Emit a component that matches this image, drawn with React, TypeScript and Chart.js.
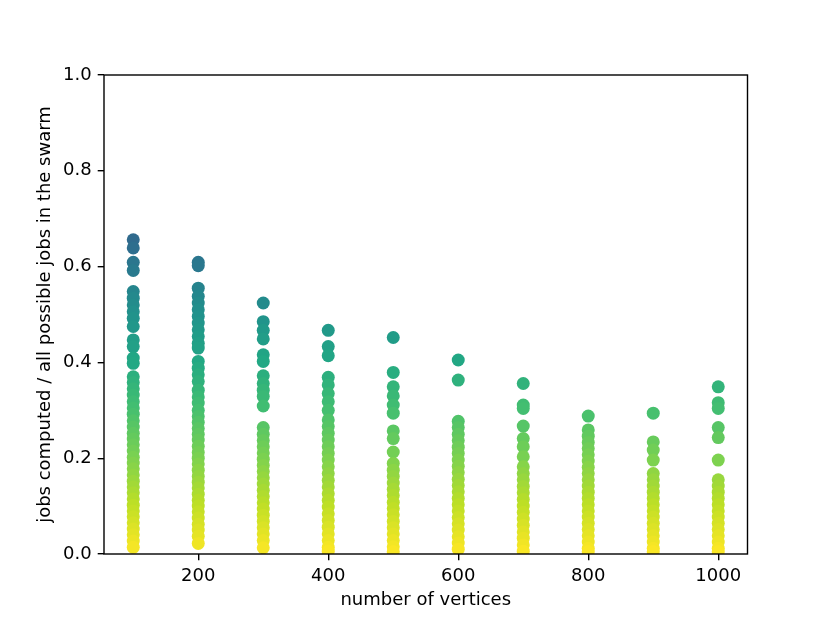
import { useEffect, useRef } from "react";
import { Chart, Plugin, registerables } from "chart.js";

Chart.register(...registerables);

// x positions of the columns
const vertexCounts = [100, 200, 300, 400, 500, 600, 700, 800, 900, 1000];

// fraction of jobs computed, one list per column
const ratios100 = [0.656, 0.639, 0.609, 0.592, 0.548, 0.534, 0.520, 0.506, 0.492, 0.475, 0.447, 0.433, 0.409, 0.398, 0.370, 0.358, 0.345, 0.332, 0.318, 0.305, 0.292, 0.278, 0.265, 0.252, 0.240, 0.228, 0.215, 0.202, 0.190, 0.178, 0.165, 0.152, 0.140, 0.128, 0.115, 0.102, 0.090, 0.078, 0.065, 0.052, 0.040, 0.027, 0.014];
const ratios200 = [0.609, 0.602, 0.555, 0.538, 0.524, 0.510, 0.496, 0.482, 0.468, 0.454, 0.440, 0.430, 0.402, 0.388, 0.374, 0.360, 0.342, 0.328, 0.315, 0.300, 0.287, 0.275, 0.262, 0.250, 0.238, 0.225, 0.212, 0.200, 0.188, 0.175, 0.162, 0.150, 0.138, 0.125, 0.112, 0.100, 0.088, 0.075, 0.062, 0.050, 0.037, 0.022];
const ratios300 = [0.524, 0.485, 0.467, 0.449, 0.416, 0.402, 0.372, 0.356, 0.342, 0.329, 0.309, 0.264, 0.250, 0.237, 0.224, 0.211, 0.198, 0.185, 0.172, 0.159, 0.146, 0.133, 0.120, 0.107, 0.094, 0.081, 0.068, 0.055, 0.042, 0.028, 0.013];
const ratios400 = [0.467, 0.433, 0.414, 0.369, 0.353, 0.335, 0.318, 0.300, 0.280, 0.266, 0.252, 0.238, 0.224, 0.210, 0.196, 0.182, 0.168, 0.154, 0.140, 0.126, 0.112, 0.098, 0.084, 0.070, 0.056, 0.042, 0.028, 0.014, 0.006];
const ratios500 = [0.452, 0.379, 0.349, 0.330, 0.311, 0.294, 0.257, 0.241, 0.213, 0.189, 0.175, 0.162, 0.148, 0.135, 0.122, 0.108, 0.095, 0.082, 0.068, 0.055, 0.042, 0.028, 0.015, 0.005];
const ratios600 = [0.405, 0.363, 0.277, 0.264, 0.250, 0.237, 0.223, 0.210, 0.196, 0.183, 0.170, 0.156, 0.143, 0.130, 0.116, 0.103, 0.090, 0.076, 0.063, 0.050, 0.036, 0.023, 0.010];
const ratios700 = [0.356, 0.311, 0.304, 0.267, 0.241, 0.224, 0.203, 0.182, 0.168, 0.155, 0.141, 0.128, 0.114, 0.100, 0.087, 0.073, 0.060, 0.046, 0.033, 0.019, 0.006];
const ratios800 = [0.288, 0.259, 0.246, 0.233, 0.220, 0.207, 0.194, 0.181, 0.168, 0.155, 0.142, 0.129, 0.116, 0.103, 0.090, 0.077, 0.064, 0.051, 0.038, 0.025, 0.012, 0.005];
const ratios900 = [0.294, 0.234, 0.217, 0.196, 0.168, 0.155, 0.142, 0.129, 0.116, 0.103, 0.090, 0.077, 0.064, 0.051, 0.038, 0.025, 0.012, 0.005];
const ratios1000 = [0.349, 0.316, 0.304, 0.264, 0.243, 0.196, 0.155, 0.142, 0.129, 0.116, 0.103, 0.090, 0.077, 0.064, 0.051, 0.038, 0.025, 0.012, 0.005];

const columns = [ratios100, ratios200, ratios300, ratios400, ratios500, ratios600, ratios700, ratios800, ratios900, ratios1000];

const xTicks = [200, 400, 600, 800, 1000];
const yTicks = [0, 0.2, 0.4, 0.6, 0.8, 1.0];

// viridis colour map, 11 stops
const viridisStops = ["#440154", "#482475", "#414487", "#355f8d", "#2a788e", "#21918c", "#22a884", "#44bf70", "#7ad151", "#bddf26", "#fde725"];

function hexToRgb(h: string) {
	return [parseInt(h.slice(1, 3), 16), parseInt(h.slice(3, 5), 16), parseInt(h.slice(5, 7), 16)];
}

function viridis(t: number) {
	t = Math.max(0, Math.min(1, t));
	const pos = t * (viridisStops.length - 1);
	const i = Math.min(Math.floor(pos), viridisStops.length - 2);
	const f = pos - i;
	const a = hexToRgb(viridisStops[i]);
	const b = hexToRgb(viridisStops[i + 1]);
	const c = a.map((v, k) => Math.round(v + (b[k] - v) * f));
	return `rgb(${c[0]},${c[1]},${c[2]})`;
}

// matplotlib-style box round the plot area
const framePlugin: Plugin = {
	id: "frame",
	afterDatasetsDraw(chart) {
		const { ctx, chartArea: a } = chart;
		ctx.save();
		ctx.strokeStyle = "#000";
		ctx.lineWidth = 1.4;
		ctx.strokeRect(a.left, a.top, a.right - a.left, a.bottom - a.top);
		ctx.restore();
	}
};

const FONT = { family: "'DejaVu Sans'", size: 18 };

export default function App() {
	const chartRef = useRef<HTMLCanvasElement>(null);
	useEffect(() => {
		if (chartRef.current == null) {
			return;
		}

		const points = vertexCounts.flatMap((n, i) => columns[i].map(r => ({ x: n, y: r })));

		const chart = new Chart(chartRef.current, {
			type: "scatter",
			data: {
				datasets: [{
					data: points,
					pointRadius: 6.5,
					pointHoverRadius: 6.5,
					borderWidth: 0,
					pointBorderWidth: 0,
					backgroundColor: (ctx: any) => viridis(1 - (ctx.raw ? ctx.raw.y : 0)),
				}]
			},
			options: {
				animation: false,
				responsive: false,
				events: [],
				layout: {
					padding: { left: 34.2, top: 75, right: 82.5, bottom: 12.2 }
				},
				plugins: {
					legend: { display: false },
					tooltip: { enabled: false },
				},
				scales: {
					x: {
						type: "linear",
						min: 55,
						max: 1045,
						afterBuildTicks: (scale: any) => {
							scale.ticks = xTicks.map(v => ({ value: v }));
						},
						afterFit: (scale: any) => {
							scale.height = 56.8;
						},
						grid: { drawOnChartArea: false, tickLength: 6.3, color: "#000", lineWidth: 1.4 },
						border: { display: false },
						ticks: { color: "#000", font: FONT, padding: 5, maxRotation: 0, callback: (v: any) => String(v) },
						title: { display: true, text: "number of vertices", color: "#000", font: FONT, padding: 0 }
					},
					y: {
						type: "linear",
						min: 0,
						max: 1,
						afterBuildTicks: (scale: any) => {
							scale.ticks = yTicks.map(v => ({ value: v }));
						},
						afterFit: (scale: any) => {
							scale.width = 69.8;
						},
						grid: { drawOnChartArea: false, tickLength: 6.3, color: "#000", lineWidth: 1.4 },
						border: { display: false },
						ticks: { color: "#000", font: FONT, padding: 6, callback: (v: any) => Number(v).toFixed(1) },
						title: { display: true, text: "jobs computed / all possible jobs in the swarm", color: "#000", font: FONT, padding: 0 }
					}
				}
			},
			plugins: [framePlugin]
		});
		return () => {
			chart.destroy();
		};
	}, []);

	return (
		<div style={{ position: "absolute", left: 0, top: 0, width: 830, height: 623, background: "#fff" }}>
			<canvas ref={chartRef} width={830} height={623} />
		</div>
	);
}
